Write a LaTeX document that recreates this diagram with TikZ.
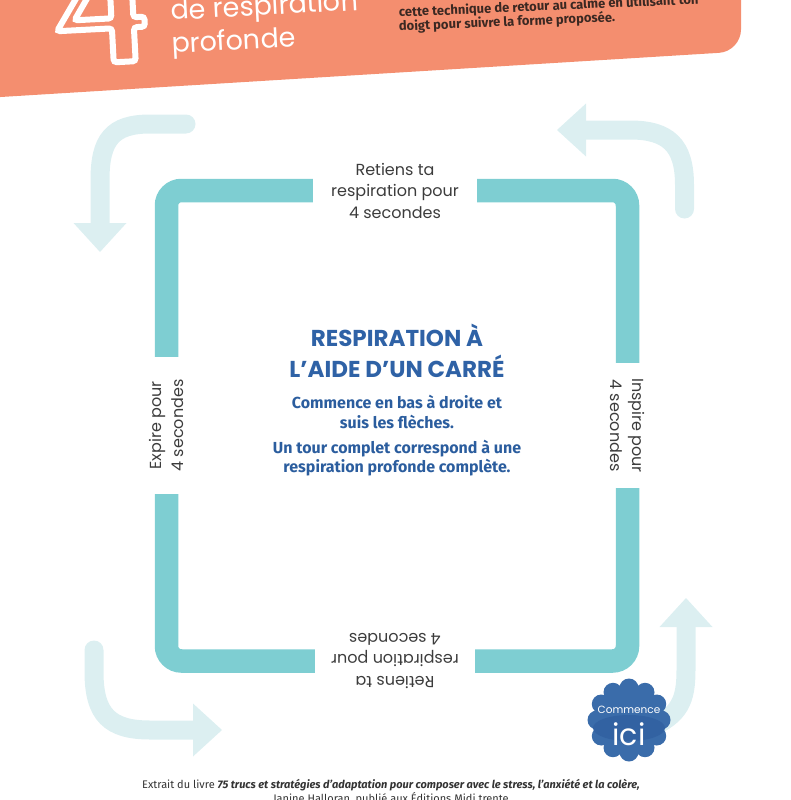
\documentclass[tikz,border=0pt]{standalone}
\usepackage{fontspec}
\usetikzlibrary{arrows.meta,calc}

\newfontfamily\gothic{Poppins}
\newfontfamily\myriad{Fira Sans}

\definecolor{salmon}{HTML}{F48E6F}
\definecolor{squarecol}{HTML}{7ECED2}
\definecolor{palearrow}{HTML}{DCEFF1}
\definecolor{titleblue}{HTML}{2F62A6}
\definecolor{bodyblue}{HTML}{2B5D9E}
\definecolor{badgeblue}{HTML}{3A6CAA}
\definecolor{badgedark}{HTML}{3262A2}
\definecolor{labelgray}{HTML}{3C3C3C}
\definecolor{headtext}{HTML}{3B2822}

\tikzset{
  sqline/.style={draw=squarecol, line width=23.5pt},
  sqlabel/.style={font=\gothic\fontsize{16}{21.5}\selectfont, text=labelgray, align=center, inner sep=0pt},
  palearr/.style={draw=palearrow, line width=19pt, line cap=round, -{Triangle[width=53pt,length=29pt,line width=0pt]}},
  headline/.style={font=\myriad\bfseries\fontsize{13}{13}\selectfont, text=headtext, anchor=base west, rotate=2.5, inner sep=0pt},
}

\begin{document}
\begin{tikzpicture}[x=1pt, y=-1pt]
    \useasboundingbox (0,0) rectangle (791,800);
    \clip (0,0) rectangle (791,800);

    % Header band with the big outlined 4
    \fill[salmon, rounded corners=22pt] (-40,-40) -- (741,-40) -- (741,51.5) -- (-40,99.5) -- cycle;
    \begin{scope}[rotate around={3:(100,30)}, draw=white, line width=6pt, rounded corners=3pt]
        \draw (57,29) -- (97,-32) -- (134,-32) -- (134,19) -- (145,19) -- (145,29) -- (134,29) -- (134,63) -- (112,63) -- (112,29) -- cycle;
        \draw (75,19) -- (112,19) -- (112,-38) -- cycle;
    \end{scope}
    \node[font=\gothic\fontsize{27}{33}\selectfont, text=white, anchor=base west, rotate=3, inner sep=0pt] (title1) at (171,20) {de respiration};
    \node[font=\gothic\fontsize{27}{33}\selectfont, text=white, anchor=base west, rotate=3, inner sep=0pt] (title2) at (172,53) {profonde};
    \node[headline] (intro1) at (399,17) {cette technique de retour au calme en utilisant ton};
    \node[headline] (intro2) at (399,31) {doigt pour suivre la forme proposée.};

    % Pale arrows in the corners
    \coordinate (tlTail) at (186,124);
    \coordinate (tlTip) at (100,252);
    \draw[palearr] (tlTail) -- (150,124) .. controls (112,124) and (100,140) .. (100,180) -- (tlTip);
    \coordinate (trTail) at (684.5,209);
    \coordinate (trTip) at (557,130);
    \draw[palearr] (trTail) -- (684.5,185) .. controls (684.5,145) and (668,130) .. (630,130) -- (trTip);
    \coordinate (blTail) at (94,650);
    \coordinate (blTip) at (222,730);
    \draw[palearr] (blTail) -- (94,672) .. controls (94,715) and (110,730) .. (150,730) -- (blTip);
    \coordinate (brTail) at (650,728);
    \coordinate (brTip) at (686,598);
    \draw[palearr] (brTail) .. controls (680,715) and (686,700) .. (686,670) -- (brTip);

    % The square, broken by its four labels
    \node[sqlabel, minimum width=164pt] (holdTop) at (395,190.5) {Retiens ta\\respiration pour\\4 secondes};
    \node[sqlabel, minimum width=137pt, rotate=90] (exhale) at (166.5,425.5) {Expire pour\\4 secondes};
    \node[sqlabel, minimum width=125pt, rotate=-90] (inhale) at (627.5,425.5) {Inspire pour\\4 secondes};
    \node[sqlabel, minimum width=160pt, rotate=180] (holdBot) at (395,661) {Retiens ta\\respiration pour\\4 secondes};
    \draw[sqline, rounded corners=15pt] (holdTop.west) -| (exhale.east);
    \draw[sqline, rounded corners=15pt] (holdTop.east) -| (inhale.west);
    \draw[sqline, rounded corners=15pt] (inhale.east) |- (holdBot.west);
    \draw[sqline, rounded corners=15pt] (exhale.west) |- (holdBot.east);

    % Text in the middle
    \node[font=\gothic\bfseries\fontsize{23}{31}\selectfont, text=titleblue, align=center] (heading) at (397,351) {RESPIRATION À\\L’AIDE D’UN CARRÉ};
    \node[font=\myriad\bfseries\fontsize{16}{19.5}\selectfont, text=bodyblue, align=center] (steps) at (397,436) {Commence en bas à droite et\\suis les flèches.\\[5.5pt]Un tour complet correspond à une\\respiration profonde complète.};

    % Start badge
    \coordinate (badge) at (629,720);
    \fill[badgeblue] (badge) circle (33);
    \foreach \a in {0,30,...,330}
        \fill[badgeblue] ($(badge)+(\a:32)$) circle (9.5);
    \fill[badgedark] ($(badge)+(0,8)$) ellipse (36 and 13);
    \node[font=\gothic\fontsize{10.5}{12}\selectfont, text=white] (startA) at (629,710) {Commence};
    \node[font=\gothic\fontsize{30}{30}\selectfont, text=white] (startB) at (629,734) {ici};

    % Source line
    \node[font=\myriad\fontsize{11}{14}\selectfont, text=black!80, align=center] (credit) at (391,792) {Extrait du livre \textbf{\textit{75 trucs et stratégies d’adaptation pour composer avec le stress, l’anxiété et la colère,}}\\Janine Halloran, publié aux Éditions Midi trente};
\end{tikzpicture}
\end{document}
